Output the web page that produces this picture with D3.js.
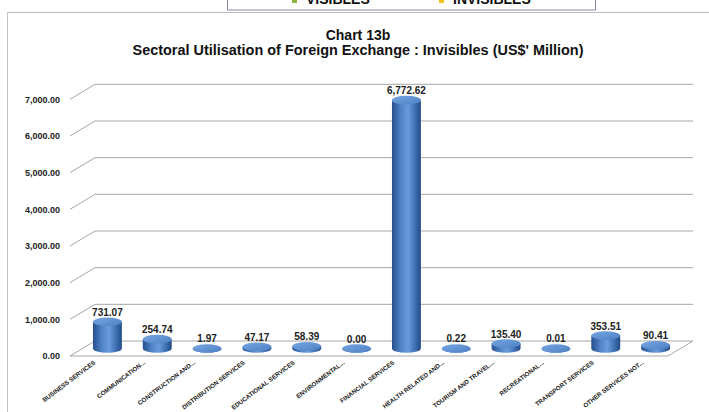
<!DOCTYPE html>
<html>
<head>
<meta charset="utf-8">
<script src="https://cdn.jsdelivr.net/npm/d3@7"></script>
<style>
  html, body { margin: 0; padding: 0; background: #fff; }
  svg { display: block; }
</style>
</head>
<body>
<svg id="chart" width="709" height="412"></svg>
<script>
// Sectoral utilisation of foreign exchange – invisibles (US$ million)
const categories = [
  "BUSINESS SERVICES", "COMMUNICATION...", "CONSTRUCTION AND...",
  "DISTRIBUTION SERVICES", "EDUCATIONAL SERVICES", "ENVIRONMENTAL...",
  "FINANCIAL SERVICES", "HEALTH RELATED AND...", "TOURISM AND TRAVEL...",
  "RECREATIONAL...", "TRANSPORT SERVICES", "OTHER SERVICES NOT..."
];
const values = [731.07, 254.74, 1.97, 47.17, 58.39, 0.00, 6772.62, 0.22, 135.40, 0.01, 353.51, 90.41];
const yTicks = [0, 1000, 2000, 3000, 4000, 5000, 6000, 7000];
const legendItems = ["VISIBLES", "INVISIBLES"];
const legendColors = ["#8cb43c", "#f3c01c"];
const titleLines = ["Chart 13b", "Sectoral Utilisation of Foreign Exchange : Invisibles (US$' Million)"];

const svg = d3.select("#chart");
const W = 709, H = 412;

// 3D depth offset of the back wall relative to the front edge
const depth = { dx: 25, dy: -15 };

const x = d3.scaleBand().domain(categories).range([70, 668]).padding(0);
const y = d3.scaleLinear().domain([0, 7000]).range([356, 99.3]);
const fmt = d3.format(",.2f");

// Outer frame pieces
svg.append("line").attr("x1", 7.5).attr("x2", 7.5).attr("y1", 12.5).attr("y2", H)
  .attr("stroke", "#c4c4c4").attr("stroke-width", 1);
svg.append("line").attr("x1", 7).attr("x2", W).attr("y1", 12.5).attr("y2", 12.5)
  .attr("stroke", "#bdbdbd").attr("stroke-width", 1.2);

// Legend strip of the panel above
const lg = svg.append("g");
lg.append("rect").attr("x", 227.5).attr("y", -20).attr("width", 368).attr("height", 30)
  .attr("fill", "#fff").attr("stroke", "#8d87a3").attr("stroke-width", 1);
const legendX = [292, 439];
legendItems.forEach((t, i) => {
  lg.append("rect").attr("x", legendX[i]).attr("y", -3).attr("width", 5).attr("height", 6)
    .attr("fill", legendColors[i]);
  lg.append("text").attr("x", legendX[i] + 14).attr("y", 4)
    .attr("font-family", "Liberation Sans, Arial, sans-serif").attr("font-weight", "bold")
    .attr("font-size", 14).attr("fill", "#111").text(t);
});

// Title
const title = svg.append("g").attr("font-family", "Liberation Sans, Arial, sans-serif")
  .attr("font-weight", "bold").attr("fill", "#111").attr("text-anchor", "middle");
title.append("text").attr("x", 358).attr("y", 40).attr("font-size", 14).text(titleLines[0]);
title.append("text").attr("x", 358).attr("y", 55).attr("font-size", 14)
  .attr("textLength", 451).attr("lengthAdjust", "spacingAndGlyphs").text(titleLines[1]);

// Gridlines on side wall and back wall
const x0 = x.range()[0], x1 = x.range()[1];
const grid = svg.append("g").attr("stroke", "#a6a6a6").attr("stroke-width", 1).attr("fill", "none");
yTicks.filter(v => v > 0).forEach(v => {
  const yy = y(v);
  grid.append("path")
    .attr("d", `M${x0},${yy}L${x0 + depth.dx},${yy + depth.dy}L${x1 + depth.dx},${yy + depth.dy}`);
});

// Floor
const yb = y(0);
svg.append("path")
  .attr("d", `M${x0},${yb}L${x1},${yb}L${x1 + depth.dx},${yb + depth.dy}L${x0 + depth.dx},${yb + depth.dy}Z`)
  .attr("fill", "#fff").attr("stroke", "#a6a6a6").attr("stroke-width", 1);

// Y axis labels
const yAxis = svg.append("g").attr("transform", "translate(62,0)")
  .call(d3.axisLeft(y).tickValues(yTicks).tickFormat(fmt).tickSize(0).tickPadding(2));
yAxis.select(".domain").remove();
yAxis.selectAll("text").attr("font-family", "Liberation Sans, Arial, sans-serif")
  .attr("font-weight", "bold").attr("font-size", 9).attr("fill", "#222");

// Gradients for the cylinders
const defs = svg.append("defs");
const bodyGrad = defs.append("linearGradient").attr("id", "cylBody").attr("x1", "0").attr("x2", "1").attr("y1", "0").attr("y2", "0");
[["0%", "#254f8c"], ["30%", "#4f82c6"], ["55%", "#6a9bdc"], ["80%", "#3f70b3"], ["100%", "#234a84"]]
  .forEach(([o, c]) => bodyGrad.append("stop").attr("offset", o).attr("stop-color", c));
const capGrad = defs.append("linearGradient").attr("id", "cylTop").attr("x1", "0").attr("x2", "1").attr("y1", "0").attr("y2", "1");
[["0%", "#78a6e2"], ["100%", "#4b7fc3"]]
  .forEach(([o, c]) => capGrad.append("stop").attr("offset", o).attr("stop-color", c));

// Cylinders, placed halfway back into the depth
const bw = x.bandwidth();
const r = bw * 0.29;
const ry = 4.3;
const midDx = depth.dx / 2, midDy = depth.dy / 2;

const bars = svg.append("g").selectAll("g").data(categories.map((c, i) => ({ c, v: values[i] })))
  .join("g");

bars.each(function(d) {
  const g = d3.select(this);
  const cx = x(d.c) + bw / 2 + midDx;
  const base = y(0) + midDy;
  const topY = y(d.v) + midDy;
  // side body with lower half-ellipse
  g.append("path")
    .attr("d", `M${cx - r},${topY}L${cx - r},${base}A${r},${ry} 0 0 0 ${cx + r},${base}L${cx + r},${topY}Z`)
    .attr("fill", "url(#cylBody)");
  // cap
  g.append("ellipse").attr("cx", cx).attr("cy", topY).attr("rx", r).attr("ry", ry)
    .attr("fill", "url(#cylTop)");
  // value label
  g.append("text").attr("x", cx).attr("y", topY - 6)
    .attr("text-anchor", "middle").attr("font-family", "Liberation Sans, Arial, sans-serif")
    .attr("font-weight", "bold").attr("font-size", 10).attr("fill", "#222")
    .text(fmt(d.v));
});

// Category labels along the front edge
svg.append("g").selectAll("text").data(categories).join("text")
  .attr("transform", d => `translate(${x(d) + bw / 2 + 1},${y(0) + 7.5}) rotate(-37)`)
  .attr("text-anchor", "end")
  .attr("font-family", "Liberation Sans, Arial, sans-serif")
  .attr("font-weight", "bold").attr("font-size", 6.2).attr("fill", "#1a1a1a")
  .text(d => d);
</script>
</body>
</html>
